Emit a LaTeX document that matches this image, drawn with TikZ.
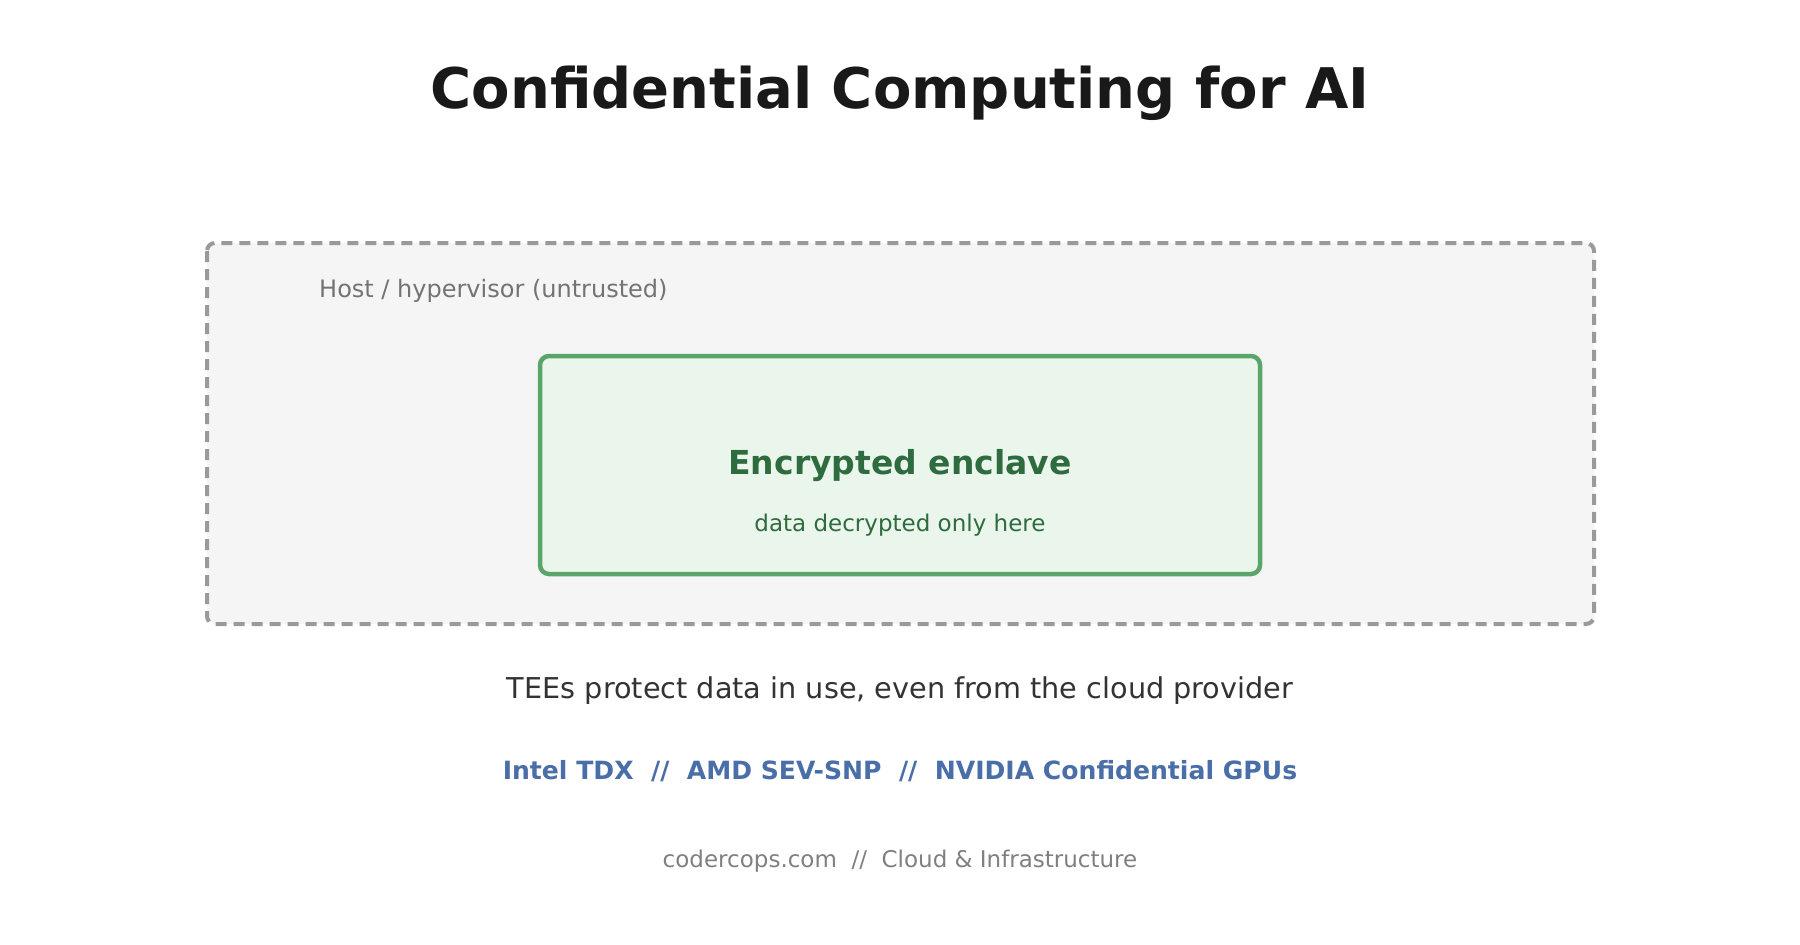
\documentclass[tikz,border=0pt]{standalone}
\usepackage{fontspec}
\setmainfont{DejaVu Sans}
\begin{document}
\begin{tikzpicture}[x=1pt,y=-1pt,
  txt/.style={inner sep=0pt,anchor=center},
  fs/.style={font=\fontsize{#1}{#1}\selectfont},
  fsb/.style={font=\fontsize{#1}{#1}\selectfont\bfseries}]
\definecolor{outerfill}{HTML}{F5F5F5}
\definecolor{outerline}{HTML}{9A9A9A}
\definecolor{encfill}{HTML}{EAF5EC}
\definecolor{encline}{HTML}{5AA66A}
\definecolor{encdark}{HTML}{2E6B3E}
\definecolor{blueT}{HTML}{4A6EA8}
\useasboundingbox[fill=white] (0,0) rectangle (1800,945);
\node[txt,fsb=56,text=black!90] (title) at (900,93) {Confidential Computing for AI};
\draw[outerline,fill=outerfill,line width=4pt,dash pattern=on 11pt off 7pt,rounded corners=8pt] (207,243) rectangle (1594,624);
\node[txt,anchor=west,fs=24,text=black!55] (host) at (319,291) {Host / hypervisor (untrusted)};
\draw[encline,fill=encfill,line width=4.5pt,rounded corners=9pt] (540,356) rectangle (1260,574);
\node[txt,fsb=33,text=encdark] (enc) at (900,466) {Encrypted enclave};
\node[txt,fs=23,text=encdark] (sub) at (900,525) {data decrypted only here};
\node[txt,fs=28.7,text=black!80] (tee) at (900,691) {TEEs protect data in use, even from the cloud provider};
\node[txt,fsb=25.1,text=blueT] (vend) at (900,771) {Intel TDX\ \ //\ \ AMD SEV-SNP\ \ //\ \ NVIDIA Confidential GPUs};
\node[txt,fs=23,text=black!50] (foot) at (900,861) {codercops.com\ \ //\ \ Cloud \& Infrastructure};
\end{tikzpicture}
\end{document}
